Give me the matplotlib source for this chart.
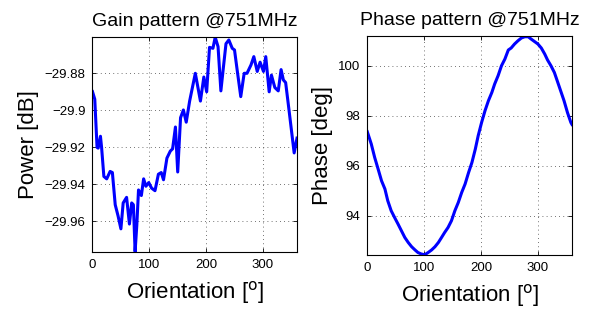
import matplotlib
matplotlib.use("Agg")
import matplotlib.pyplot as plt

plt.rcParams['font.family'] = ['Liberation Sans', 'DejaVu Sans']

# Gain pattern data
gain_orient = [0, 4, 8, 10, 14, 16, 20, 25, 31, 35, 40, 45, 50, 54, 60, 65, 69, 72, 75, 78,
               81, 86, 90, 94, 99, 104, 110, 116, 121, 125, 131, 137, 141, 146, 150, 155,
               160, 165, 171, 181, 190, 196, 201, 206, 212, 216, 221, 226, 230, 235, 240,
               246, 250, 255, 261, 267, 272, 279, 284, 290, 295, 301, 305, 311, 315, 321,
               327, 332, 336, 340, 346, 355, 360]
gain_db = [-29.8899, -29.894, -29.920, -29.9204, -29.914, -29.920, -29.9357, -29.937,
           -29.933, -29.9336, -29.951, -29.957, -29.964, -29.950, -29.947, -29.9614,
           -29.950, -29.951, -29.9763, -29.962, -29.943, -29.946, -29.937, -29.941,
           -29.939, -29.942, -29.9434, -29.9345, -29.9336, -29.9375, -29.9258, -29.922,
           -29.9208, -29.909, -29.9333, -29.904, -29.8998, -29.9064, -29.895, -29.880,
           -29.895, -29.882, -29.890, -29.866, -29.8665, -29.8605, -29.8656, -29.8895,
           -29.878, -29.864, -29.862, -29.8665, -29.8674, -29.879, -29.8926, -29.880,
           -29.880, -29.8755, -29.871, -29.879, -29.874, -29.879, -29.871, -29.890,
           -29.881, -29.8877, -29.8895, -29.878, -29.8836, -29.885, -29.900, -29.923,
           -29.915]

# Phase pattern data
phase_orient = [0, 7, 13, 19, 25, 31, 36, 42, 48, 54, 60, 66, 72, 78, 84, 89, 95, 101,
                107, 113, 119, 125, 130, 136, 142, 148, 154, 160, 166, 172, 178, 184,
                190, 195, 201, 207, 213, 219, 224, 230, 236, 242, 248, 253, 259, 265,
                271, 277, 283, 288, 294, 300, 306, 312, 317, 323, 329, 334, 340, 346,
                352, 358, 360]
phase_deg = [97.36, 96.87, 96.33, 95.87, 95.4, 95.07, 94.6, 94.2, 93.93, 93.67, 93.4,
             93.13, 92.93, 92.76, 92.63, 92.53, 92.47, 92.44, 92.53, 92.63, 92.76, 92.93,
             93.11, 93.33, 93.53, 93.8, 94.2, 94.53, 94.93, 95.27, 95.72, 96.13, 96.67,
             97.2, 97.73, 98.2, 98.6, 98.93, 99.27, 99.6, 100.0, 100.27, 100.63, 100.71,
             100.87, 101.0, 101.11, 101.16, 101.16, 101.07, 100.97, 100.87, 100.71,
             100.47, 100.23, 100.0, 99.73, 99.4, 99.0, 98.6, 98.13, 97.73, 97.65]

gain_yticks = [-29.96, -29.94, -29.92, -29.9, -29.88]
gain_yticklabels = ['\u221229.96', '\u221229.94', '\u221229.92', '\u221229.9', '\u221229.88']
phase_yticks = [94, 96, 98, 100]
xticks = [0, 100, 200, 300]

W, H = 597, 317
fig = plt.figure(figsize=(W / 100, H / 100), dpi=100)

ax1 = fig.add_axes([92.5 / W, (H - 252) / H, (297 - 92.5) / W, 215 / H])
ax2 = fig.add_axes([367.3 / W, (H - 255) / H, (572 - 367.3) / W, 219 / H])

def style(ax):
    ax.set_xlim(0, 360)
    ax.set_xticks(xticks)
    ax.tick_params(direction='in', top=True, right=True, labelsize=9.5,
                   length=3, width=0.6, pad=5)
    ax.grid(True, linestyle=(0, (1, 4)), color='#444444', linewidth=0.6)
    for s in ax.spines.values():
        s.set_linewidth(0.8)
        s.set_color('black')

ax1.plot(gain_orient, gain_db, color='#0000ff', linewidth=2.2)
style(ax1)
ax1.set_ylim(-29.9765, -29.8604)
ax1.set_yticks(gain_yticks)
ax1.set_yticklabels(gain_yticklabels)
ax1.set_title('Gain pattern @751MHz', fontsize=14, pad=8)
ax1.set_xlabel('Orientation [$^{\\mathrm{o}}$]', fontsize=16, labelpad=6)
ax1.set_ylabel('Power [dB]', fontsize=16, labelpad=4)

ax2.plot(phase_orient, phase_deg, color='#0000ff', linewidth=2.2)
style(ax2)
ax2.set_ylim(92.43, 101.19)
ax2.set_yticks(phase_yticks)
ax2.set_title('Phase pattern @751MHz', fontsize=14, pad=8)
ax2.set_xlabel('Orientation [$^{\\mathrm{o}}$]', fontsize=16, labelpad=6)
ax2.set_ylabel('Phase [deg]', fontsize=16, labelpad=4)

fig.savefig('out.png', dpi=100)
